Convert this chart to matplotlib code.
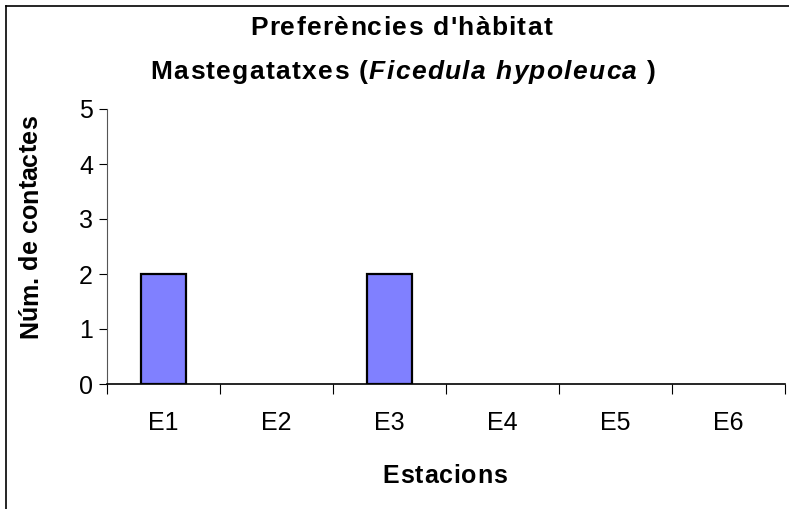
import matplotlib
matplotlib.use("Agg")
import matplotlib.pyplot as plt
from matplotlib.lines import Line2D

plt.rcParams["font.family"] = ["Liberation Sans", "DejaVu Sans"]

# contacts per station
estacions = ["E1", "E2", "E3", "E4", "E5", "E6"]
contactes = [2, 0, 2, 0, 0, 0]
yticks = [0, 1, 2, 3, 4, 5]

W, H = 789, 509
fig = plt.figure(figsize=(W / 100, H / 100), dpi=100)
renderer = fig.canvas.get_renderer()


def char_width(c, size, style):
    # advance width of one character, in pixels
    if c == " ":
        a = fig.text(0, 0, "n n", fontsize=size, fontweight="bold", style=style)
        b = fig.text(0, 0, "nn", fontsize=size, fontweight="bold", style=style)
        w = a.get_window_extent(renderer).width - b.get_window_extent(renderer).width
        a.remove(); b.remove()
        return w
    t = fig.text(0, 0, c, fontsize=size, fontweight="bold", style=style)
    w = t.get_window_extent(renderer).width
    t.remove()
    return w


def spaced_text(segments, cx, cy, size, total, vertical=False):
    # bold text with extra letter spacing, stretched to `total` pixels
    chars = [(c, st) for s, st in segments for c in s]
    widths = [char_width(c, size, st) for c, st in chars]
    gap = max(0.0, (total - sum(widths)) / (len(chars) - 1))
    total = sum(widths) + gap * (len(chars) - 1)
    pos = -total / 2
    for (c, st), w in zip(chars, widths):
        if vertical:
            fig.text(cx / W, 1 - (cy - pos) / H, c, fontsize=size, fontweight="bold",
                     style=st, rotation=90, ha="center", va="bottom")
        else:
            fig.text((cx + pos) / W, 1 - cy / H, c, fontsize=size, fontweight="bold",
                     style=st, ha="left", va="center")
        pos += w + gap


# outer chart frame
fig.add_artist(Line2D([6 / W, 6 / W], [0, 1 - 6 / H], transform=fig.transFigure,
                      color="black", linewidth=1.2))
fig.add_artist(Line2D([6 / W, 1], [1 - 6 / H, 1 - 6 / H], transform=fig.transFigure,
                      color="black", linewidth=1.2))

ax = fig.add_axes([107 / W, (H - 384) / H, (785 - 107) / W, (384 - 109) / H])
x = range(len(estacions))
bars = ax.bar(x, contactes, width=0.4, color="#8080FF", edgecolor="black", linewidth=1.6)
for b, v in zip(bars, contactes):
    if v == 0:
        b.set_visible(False)

ax.set_xlim(-0.5, len(estacions) - 0.5)
ax.set_ylim(0, 5)
ax.set_yticks(yticks)
ax.tick_params(axis="y", labelsize=18, length=6, width=0.8, pad=4, direction="out")
ax.set_xticks([i + 0.5 for i in range(-1, len(estacions))])
ax.set_xticklabels([])
ax.tick_params(axis="x", length=7, width=0.8, direction="out")
for i, lab in enumerate(estacions):
    ax.text(i, -0.7, lab, ha="center", va="center", fontsize=18)

for s in ["top", "right"]:
    ax.spines[s].set_visible(False)
ax.spines["left"].set_linewidth(0.8)
ax.spines["left"].set_color("#555555")
ax.spines["bottom"].set_linewidth(1.2)

# axis titles and two-line chart title
spaced_text([("Núm. de contactes", "normal")], 30, 227, 18, 223, vertical=True)
spaced_text([("Estacions", "normal")], 445, 476, 18, 125)
spaced_text([("Preferències d'hàbitat", "normal")], 401, 28, 19, 302)
spaced_text([("Mastegatatxes (", "normal"), ("Ficedula hypoleuca", "italic"),
             (" )", "normal")], 403, 72, 19, 505)

fig.savefig("out.png", dpi=100)
